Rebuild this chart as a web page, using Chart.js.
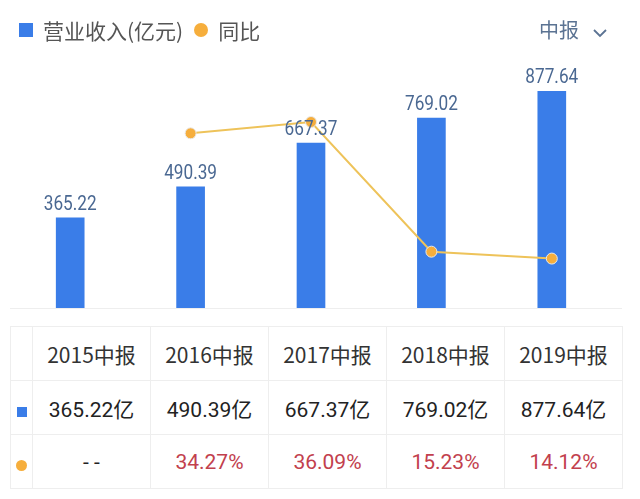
<!DOCTYPE html>
<html>
<head>
<meta charset="utf-8">
<script src="https://cdn.jsdelivr.net/npm/chart.js@4"></script>
<style>
  body { margin: 0; background: #fff; font-family: "Noto Sans CJK SC", sans-serif; }
  .wrap { position: relative; width: 640px; height: 499px; overflow: hidden; }
  .chart_box { position: absolute; left: 0; top: 0; width: 640px; height: 320px; }
  .legend { position: absolute; left: 19px; top: 15px; font-size: 21px; color: #555; display: flex; align-items: center; }
  .legend .sq { width: 14px; height: 14px; background: #3a7de8; display: inline-block; margin-right: 10px; }
  .legend .dot { width: 14px; height: 14px; border-radius: 50%; background: #f6ae3c; display: inline-block; margin: 0 10px 0 11px; }
  .period { position: absolute; left: 539px; top: 15px; font-size: 20px; color: #5b7393; }
  .period svg { margin-left: 14px; vertical-align: middle; }
  table { position: absolute; left: 10px; top: 326px; border-collapse: collapse; }
  td { border: 1px solid #eeeeee; height: 53px; width: 117px; text-align: center; font-size: 21px; color: #333; padding: 0; }
  td.icon { width: 21px; }
  td.pct { color: #c2404d; font-family: Roboto, sans-serif; }
  td.val { font-family: Roboto, "Noto Sans CJK SC", sans-serif; color: #222; }
  .ic_sq { width: 10px; height: 10px; background: #3a7de8; display: inline-block; }
  .ic_dot { width: 11px; height: 11px; border-radius: 50%; background: #f6ae3c; display: inline-block; }
</style>
</head>
<body>
<div class="wrap">
  <div class="chart_box"><canvas id="chart"></canvas></div>
  <div class="legend"><span class="sq"></span>营业收入(亿元)<span class="dot"></span>同比</div>
  <div class="period">中报<svg width="14" height="10" viewBox="0 0 14 10"><polyline points="1,2 7,8 13,2" fill="none" stroke="#5b7393" stroke-width="1.8"/></svg></div>
  <table id="tbl"></table>
</div>
<script>
// chart values
const periods = ["2015中报", "2016中报", "2017中报", "2018中报", "2019中报"];
const revenue = [365.22, 490.39, 667.37, 769.02, 877.64];
const yoy = [null, 34.27, 36.09, 15.23, 14.12];

const barColor = "#3a7de8";
const lineColor = "#eec35a";
const dotColor = "#f6ae3c";

// labels above the bars and the base line
const barLabels = {
  id: "barLabels",
  afterDatasetsDraw(chart) {
    const ctx = chart.ctx;
    const area = chart.chartArea;
    ctx.save();
    ctx.strokeStyle = "#eeeeee";
    ctx.lineWidth = 1;
    ctx.beginPath();
    ctx.moveTo(area.left, area.bottom + 0.5);
    ctx.lineTo(area.right + 10, area.bottom + 0.5);
    ctx.stroke();

    // bar dataset is index 1
    const meta = chart.getDatasetMeta(1);
    ctx.fillStyle = "#4a6892";
    ctx.font = "20px Roboto, sans-serif";
    ctx.textAlign = "center";
    ctx.textBaseline = "bottom";
    meta.data.forEach((bar, i) => {
      // squeeze the digits a bit, the original uses a narrow face
      ctx.save();
      ctx.translate(bar.x, bar.y - 3);
      ctx.scale(0.86, 1);
      ctx.fillText(revenue[i].toFixed(2), 0, 0);
      ctx.restore();
    });
    ctx.restore();
  },
};

new Chart(document.getElementById("chart"), {
  data: {
    labels: periods,
    datasets: [
      {
        type: "line",
        label: "同比",
        data: yoy,
        yAxisID: "y2",
        borderColor: lineColor,
        borderWidth: 2,
        pointRadius: 5.5,
        pointBackgroundColor: dotColor,
        pointBorderColor: "#e9e9e9",
        pointBorderWidth: 1,
        spanGaps: false,
        order: 0,
      },
      {
        type: "bar",
        label: "营业收入(亿元)",
        data: revenue,
        backgroundColor: barColor,
        barThickness: 28,
        order: 1,
      },
    ],
  },
  options: {
    responsive: true,
    maintainAspectRatio: false,
    animation: false,
    layout: { padding: { left: 10, right: 28, top: 61, bottom: 12 } },
    plugins: { legend: { display: false }, tooltip: { enabled: false } },
    scales: {
      x: { display: false },
      y: { display: false, min: 0, max: 1000 },
      y2: { display: false, min: 6.17, max: 45.9 },
    },
  },
  plugins: [barLabels],
});

// table under the chart
const tbl = document.getElementById("tbl");
let html = '<tr><td class="icon"></td>' + periods.map((p) => "<td>" + p + "</td>").join("") + "</tr>";
html += '<tr><td class="icon"><span class="ic_sq"></span></td>' +
  revenue.map((v) => '<td class="val">' + v.toFixed(2) + "亿</td>").join("") + "</tr>";
html += '<tr><td class="icon"><span class="ic_dot"></span></td>' +
  yoy.map((v) => (v === null ? '<td class="val">- -</td>' : '<td class="pct">' + v.toFixed(2) + "%</td>")).join("") + "</tr>";
tbl.innerHTML = html;
</script>
</body>
</html>
